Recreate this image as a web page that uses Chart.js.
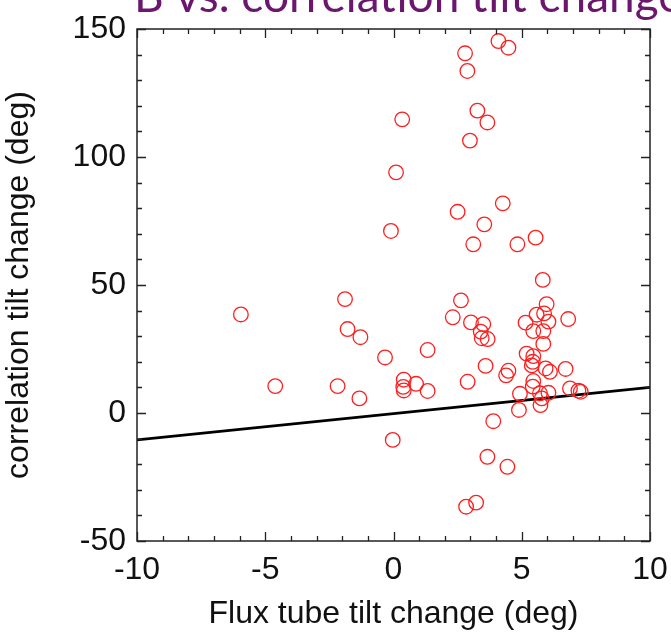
<!DOCTYPE html>
<html>
<head>
<meta charset="utf-8">
<script src="https://cdn.jsdelivr.net/npm/chart.js@4.4.1/dist/chart.umd.min.js"></script>
<style>
  html, body { margin: 0; padding: 0; background: #fff; }
  #wrap { width: 671px; height: 633px; }
</style>
</head>
<body>
<div id="wrap"><canvas id="tiltChart" width="671" height="633"></canvas></div>
<script>
// Dữ liệu: độ thay đổi góc nghiêng ống từ thông (x) và góc tương quan (y)
const fluxTilt = [
  4.09, 4.48, 2.79, 2.88, 3.27, 3.66, 0.34, 2.98, 0.10, 4.26, 2.50, 3.54, 3.11, 4.83, 5.54, -0.10, 5.82,
  -5.95, -1.89, -1.79, -1.29, -0.33, -4.61, -2.18, -1.33, 0.40, 0.38, 0.40, 0.88, 1.33, 1.33,
  2.63, 2.31, 3.02, 3.50, 3.40, 3.44, 3.67, 3.59, 2.89, 4.48, 4.39,
  5.97, 5.58, 5.87, 6.04, 5.15, 5.45, 5.84, 5.84, 6.81, 5.19, 5.45, 5.43, 5.39, 5.93, 6.10, 6.71,
  5.45, 5.43, 4.93, 5.71, 6.04, 5.78, 6.88, 7.21, 7.30, 5.73, 4.89, 3.89,
  -0.03, 3.66, 4.44, 2.83, 3.22
];
const corrTilt = [
  145.3, 142.7, 140.5, 133.6, 118.1, 113.5, 114.7, 106.4, 94.0, 81.9, 78.6, 73.7, 65.9, 65.9, 68.5, 71.1, 52.0,
  38.5, 44.5, 32.8, 29.6, 21.7, 10.5, 10.5, 5.7, 13.0, 10.2, 8.8, 11.4, 24.6, 8.6,
  44.0, 37.4, 35.4, 34.7, 31.8, 29.2, 28.9, 18.4, 12.2, 16.5, 14.7,
  42.5, 38.4, 38.9, 35.7, 35.3, 32.0, 32.0, 27.0, 36.7, 23.2, 22.2, 20.0, 18.6, 17.4, 16.1, 17.2,
  12.5, 10.3, 7.5, 7.7, 7.9, 5.7, 9.6, 8.7, 8.3, 3.1, 1.2, -3.2,
  -10.5, -17.1, -21.0, -36.6, -35.0
];

// Đường thẳng đen
const lineX = [-10, 10];
const lineY = [-10.5, 10];

// Nhãn trục
const xTicks = [-10, -5, 0, 5, 10];
const yTicks = [-50, 0, 50, 100, 150];

const titleText = "B vs. correlation tilt change";
const xTitle = "Flux tube tilt change (deg)";
const yTitle = "correlation tilt change (deg)";

const FONT = "'Liberation Sans', Arial, sans-serif";

// Plugin vẽ khung, vạch chia hướng vào trong và tiêu đề bị cắt phía trên
const framePlugin = {
  id: 'frame',
  afterDatasetsDraw(chart) {
    const ctx = chart.ctx;
    const area = chart.chartArea;
    const xs = chart.scales.x;
    const ys = chart.scales.y;

    ctx.save();
    ctx.strokeStyle = '#222';
    ctx.lineWidth = 1.5;
    ctx.strokeRect(area.left, area.top, area.right - area.left, area.bottom - area.top);

    ctx.lineWidth = 1.3;
    ctx.beginPath();
    for (let v = xs.min; v <= xs.max; v += 1) {
      const px = Math.round(xs.getPixelForValue(v)) + 0.5;
      const len = (v % 5 === 0) ? 9 : 5;
      ctx.moveTo(px, area.bottom);
      ctx.lineTo(px, area.bottom - len);
      ctx.moveTo(px, area.top);
      ctx.lineTo(px, area.top + len);
    }
    for (let v = ys.min; v <= ys.max; v += 10) {
      const py = Math.round(ys.getPixelForValue(v)) + 0.5;
      const len = (v % 50 === 0) ? 9 : 5;
      ctx.moveTo(area.left, py);
      ctx.lineTo(area.left + len, py);
      ctx.moveTo(area.right, py);
      ctx.lineTo(area.right - len, py);
    }
    ctx.stroke();

    // Tiêu đề màu tím, chỉ thấy nửa dưới
    ctx.fillStyle = '#6b176e';
    ctx.font = "46px Lato, 'Open Sans', sans-serif";
    ctx.textBaseline = 'alphabetic';
    ctx.textAlign = 'left';
    ctx.fillText(titleText, 134, 12);
    ctx.restore();
  }
};

function renderTiltChart() {
  const ctx = document.getElementById('tiltChart').getContext('2d');

  const points = fluxTilt.map((x, i) => ({ x: x, y: corrTilt[i] }));
  const linePts = lineX.map((x, i) => ({ x: x, y: lineY[i] }));

  new Chart(ctx, {
    type: 'scatter',
    data: {
      datasets: [
        {
          label: 'line',
          data: linePts,
          showLine: true,
          borderColor: '#000',
          borderWidth: 2.6,
          pointRadius: 0,
          order: 2
        },
        {
          label: 'data',
          data: points,
          pointStyle: 'circle',
          pointRadius: 7.3,
          pointBorderWidth: 1.3,
          pointBorderColor: 'rgb(255, 30, 30)',
          pointBackgroundColor: 'rgba(0,0,0,0)',
          order: 1
        }
      ]
    },
    options: {
      responsive: false,
      animation: false,
      layout: { padding: { top: 29, right: 21, left: 0, bottom: 0 } },
      plugins: {
        legend: { display: false },
        tooltip: { enabled: false },
        title: { display: false }
      },
      scales: {
        x: {
          type: 'linear',
          min: -10,
          max: 10,
          afterBuildTicks: scale => { scale.ticks = xTicks.map(v => ({ value: v })); },
          afterFit: scale => {
            scale.height = 92;
            scale.paddingLeft = 0;
            scale.paddingRight = 0;
          },
          grid: { display: false, drawTicks: false },
          border: { display: false },
          ticks: {
            color: '#111',
            padding: 10,
            font: { family: FONT, size: 32 }
          },
          title: {
            display: true,
            text: xTitle,
            color: '#111',
            padding: { top: 2, bottom: 0 },
            font: { family: FONT, size: 32 }
          }
        },
        y: {
          type: 'linear',
          min: -50,
          max: 150,
          afterBuildTicks: scale => { scale.ticks = yTicks.map(v => ({ value: v })); },
          afterFit: scale => {
            scale.width = 137;
            scale.paddingTop = 0;
            scale.paddingBottom = 0;
          },
          grid: { display: false, drawTicks: false },
          border: { display: false },
          ticks: {
            color: '#111',
            padding: 11,
            font: { family: FONT, size: 32 }
          },
          title: {
            display: true,
            text: yTitle,
            color: '#111',
            padding: { top: 0, bottom: 0 },
            font: { family: FONT, size: 32 }
          }
        }
      }
    },
    plugins: [framePlugin]
  });
}

renderTiltChart();
</script>
</body>
</html>
